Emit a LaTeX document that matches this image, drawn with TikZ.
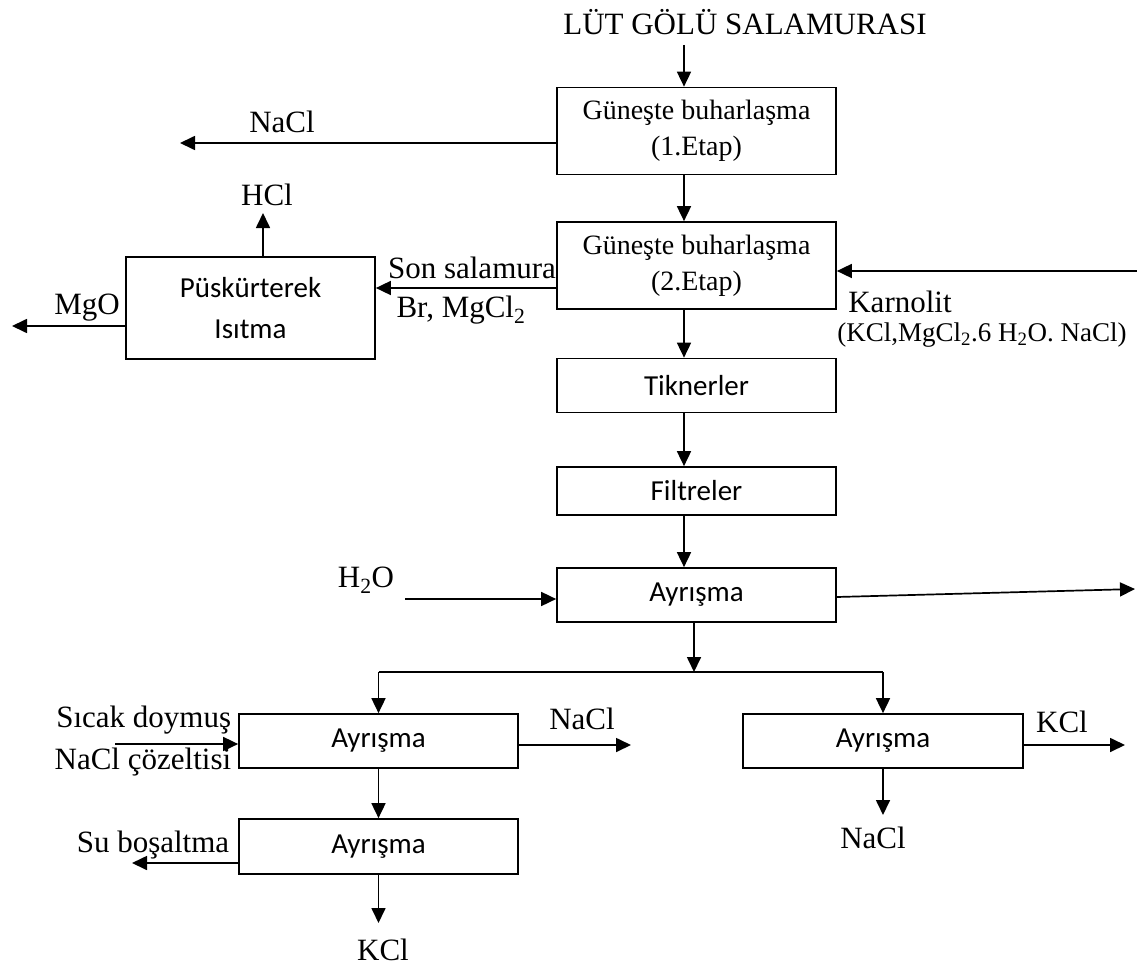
\documentclass[tikz,border=0pt]{standalone}
\usepackage{fontspec}
\setmainfont{Liberation Serif}
\newfontfamily\calibri{Carlito}
\usetikzlibrary{arrows.meta,positioning}

\tikzset{
  basic/.style  = {draw, rectangle, line width=1.7pt, inner sep=0pt, align=center},
  sun/.style    = {basic, minimum width=279pt, minimum height=87pt,
                   font=\fontsize{28}{36}\selectfont},
  unit/.style   = {basic, minimum width=279pt, minimum height=54pt,
                   font=\calibri\fontsize{29}{41}\selectfont},
  lbl/.style    = {inner sep=0pt, align=center, font=\fontsize{31}{36}\selectfont},
  sublbl/.style = {inner sep=0pt, font=\fontsize{27}{30}\selectfont}
}

\begin{document}
\begin{tikzpicture}[x=1pt, y=-1pt, line width=1.7pt,
  >={Triangle[length=15pt,width=14pt]}]

\useasboundingbox (0,0) rectangle (1137,966);

% main column
\node[sun] (b1) at (696.5,131) {Güneşte buharlaşma\\(1.Etap)};
\node[sun] (b2) at (696.5,265.5) {Güneşte buharlaşma\\(2.Etap)};
\node[unit] (tik) at (696.5,385.5) {Tiknerler};
\node[unit, minimum height=48pt] (fil) at (696.5,491) {Filtreler};
\node[unit] (ayr) at (696.5,595) {Ayrışma};

% side and lower units
\node[unit, minimum width=249pt, minimum height=102pt] (pusk) at (250.5,308) {Püskürterek\\Isıtma};
\node[unit] (ayrL) at (378.5,741) {Ayrışma};
\node[unit, minimum width=280pt] (ayrR) at (883,741) {Ayrışma};
\node[unit, minimum height=55pt] (ayrK) at (378.5,846.5) {Ayrışma};

% texts
\node[lbl] (feed) at (745,22) {LÜT GÖLÜ SALAMURASI};
\node[lbl] (nacl1) at (282,122) {NaCl};
\node[lbl] (hcl) at (267,195) {HCl};
\node[lbl] (mgo) at (87,308) {MgO};
\node[lbl] (son) at (472,268) {Son salamura};
\node[lbl] (brmg) at (461,310) {Br, MgCl\textsubscript{2}};
\node[lbl] (karn) at (900,302) {Karnolit};
\node[sublbl] (karnf) at (982,335) {(KCl,MgCl\textsubscript{2}.6 H\textsubscript{2}O. NaCl)};
\node[lbl] (water) at (366,580) {H\textsubscript{2}O};
\node[lbl, anchor=east] (hot1) at (232,720) {Sıcak doymuş};
\node[lbl, anchor=east] (hot2) at (232,762) {NaCl çözeltisi};
\node[lbl] (nacl2) at (582,719) {NaCl};
\node[lbl] (kcl1) at (1062,722) {KCl};
\node[lbl] (nacl3) at (873,838) {NaCl};
\node[lbl] (drain) at (153,845) {Su boşaltma};
\node[lbl] (kcl2) at (383,950) {KCl};

% free ends
\coordinate (col) at (684,0);
\coordinate (top) at (684,45);
\coordinate (naclE) at (180,143);
\coordinate (hclE) at (263,213);
\coordinate (mgoE) at (12,326);
\coordinate (karnS) at (1137,271);
\coordinate (waterS) at (405,599);
\coordinate (restE) at (1135,589);
\coordinate (split) at (694,672);
\coordinate (hotS) at (115,744);
\coordinate (nacl2E) at (631,745);
\coordinate (kcl1E) at (1125,745);
\coordinate (nacl3E) at (883,815);
\coordinate (drainE) at (132,863);
\coordinate (kcl2E) at (378.5,923);

% main column arrows
\draw[->] (top) -- (b1.north -| col);
\foreach \a/\b in {b1/b2, b2/tik, tik/fil, fil/ayr}
  \draw[->] (\a.south -| col) -- (\b.north -| col);

\draw[->] (b1.west |- naclE) -- (naclE);
\draw[->] (b2.west |- 0,288) -- (pusk.east |- 0,288);
\draw[->] (karnS) -- (b2.east |- karnS);
\draw[->] (pusk.north -| hclE) -- (hclE);
\draw[->] (pusk.west |- mgoE) -- (mgoE);

\draw[->] (waterS) -- (ayr.west |- waterS);
\draw[->] (ayr.east |- 0,597) -- (restE);
\draw[->] (ayr.south -| split) -- (split);
\draw (ayrL.north |- split) -- (ayrR.north |- split);
\draw[->] (ayrL.north |- split) -- (ayrL.north);
\draw[->] (ayrR.north |- split) -- (ayrR.north);

\draw[->] (hotS) -- (ayrL.west |- hotS);
\draw[->] (ayrL.east |- nacl2E) -- (nacl2E);
\draw[->] (ayrL.south) -- (ayrK.north);
\draw[->] (ayrK.west |- drainE) -- (drainE);
\draw[->] (ayrK.south) -- (kcl2E);
\draw[->] (ayrR.east |- kcl1E) -- (kcl1E);
\draw[->] (ayrR.south) -- (nacl3E);

\end{tikzpicture}
\end{document}
